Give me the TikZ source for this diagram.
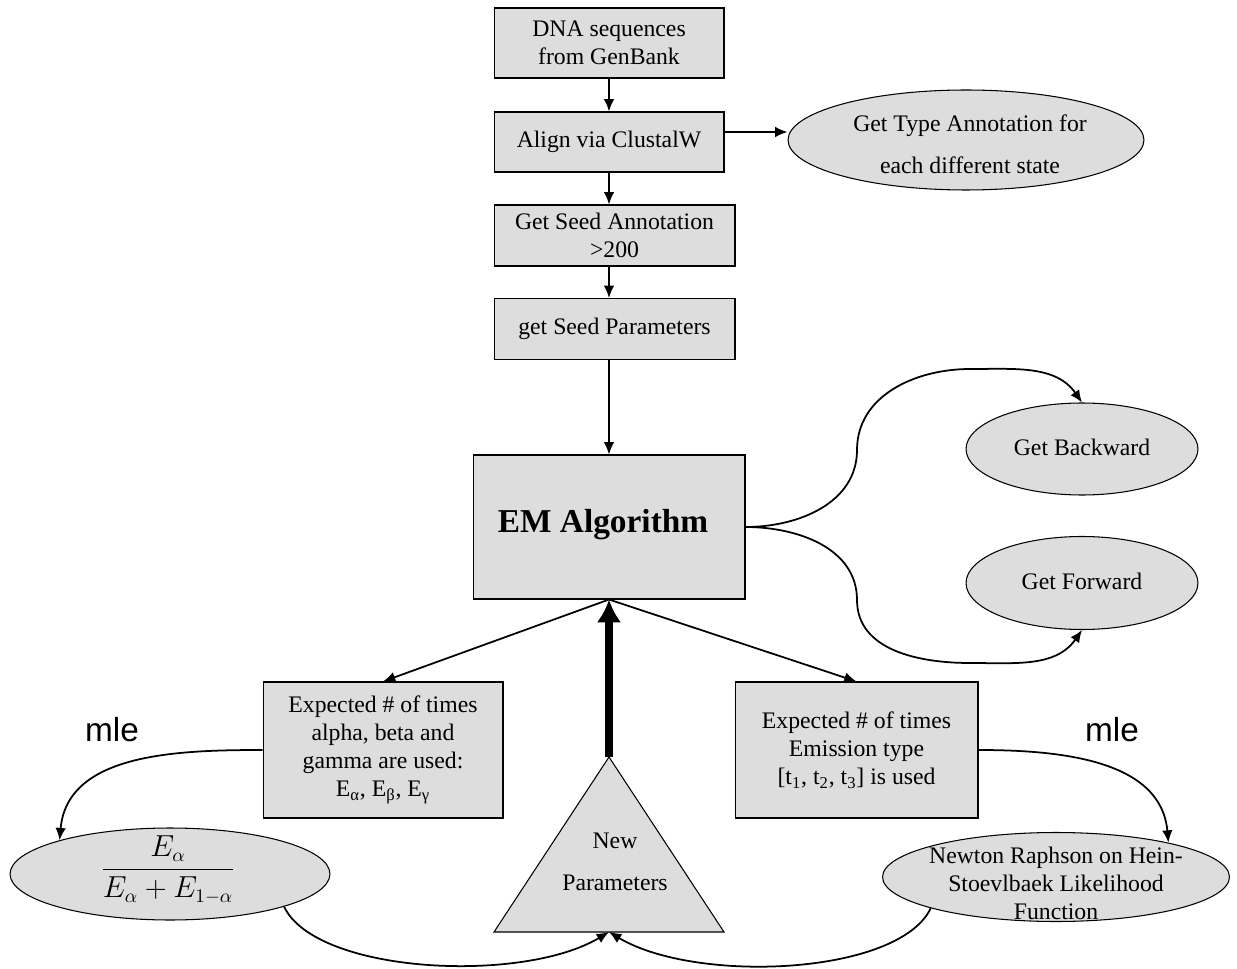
\documentclass[tikz,border=0pt]{standalone}
\usepackage{fontspec}
\setmainfont{Liberation Serif}
\newfontfamily\mlefont{Liberation Sans}
\usetikzlibrary{shapes.geometric,arrows.meta}
\definecolor{boxgray}{HTML}{DDDDDD}

\begin{document}
\begin{tikzpicture}[x=0.02cm, y=0.02cm,
    every node/.style={font=\fontsize{13.5}{16}\selectfont},
    box/.style={draw, fill=boxgray, line width=0.6pt, align=center, inner sep=0pt},
    oval/.style={draw, ellipse, fill=boxgray, line width=0.6pt, inner sep=0pt},
    txt/.style={align=center, inner sep=0pt},
    arr/.style={-{Latex[length=7pt,width=6pt]}, line width=1pt}]
    \useasboundingbox (0,0) rectangle (1237,968);
    \draw
    (609,925)node(dna)[box, minimum width=4.6cm, minimum height=1.4cm]{DNA sequences\\from GenBank}
    (609,826)node(align)[box, minimum width=4.6cm, minimum height=1.2cm]{Align via ClustalW}
    (614.5,732.5)node(seed)[box, minimum width=4.82cm, minimum height=1.22cm]{Get Seed Annotation\\>200}
    (614.5,639)node(param)[box, minimum width=4.82cm, minimum height=1.22cm]{get Seed Parameters}
    (609,441)node(em)[box, minimum width=5.44cm, minimum height=2.88cm]{}
    (383,218)node(lbox)[box, minimum width=4.8cm, minimum height=2.72cm]{Expected \# of times\\alpha, beta and\\gamma are used:\\E\textsubscript{α}, E\textsubscript{β}, E\textsubscript{γ}}
    (856.5,218)node(rbox)[box, minimum width=4.86cm, minimum height=2.72cm]{Expected \# of times\\Emission type\\{[}t\textsubscript{1}, t\textsubscript{2}, t\textsubscript{3}{]} is used};
    %
    \draw
    (966,828)node(type)[oval, minimum width=7.12cm, minimum height=2cm]{}
    (1082,519)node(back)[oval, minimum width=4.64cm, minimum height=1.84cm]{}
    (1082,385)node(fwd)[oval, minimum width=4.64cm, minimum height=1.86cm]{}
    (170,94)node(frac)[oval, minimum width=6.4cm, minimum height=1.84cm]{}
    (1056,91)node(newton)[oval, minimum width=6.94cm, minimum height=1.78cm]{};
    %
    \node(emtxt)[txt, font=\fontsize{19}{23}\selectfont\bfseries] at (603,443){EM Algorithm};
    \node(typetxt)[txt, font=\fontsize{13.5}{24}\selectfont] at (970,824){Get Type Annotation for\\each different state};
    \node(backtxt)[txt] at (1082,521){Get Backward};
    \node(fwdtxt)[txt] at (1082,387){Get Forward};
    \node(fractxt)[txt, font=\fontsize{16}{18}\selectfont] at (168,98){$\displaystyle\frac{E_\alpha}{E_\alpha + E_{1-\alpha}}$};
    \node(newtontxt)[txt] at (1056,85){Newton Raphson on Hein-\\Stoevlbaek Likelihood\\Function};
    %
    \coordinate (newtop) at (609,211);
    \coordinate (newbot) at (609,36);
    \draw[fill=boxgray, line width=0.6pt] (newtop) -- (724,36) -- (494,36) -- cycle;
    \node(newtxt)[txt, font=\fontsize{13.5}{24}\selectfont] at (615,106){New\\Parameters};
    %
    \node(mlel)[txt, font=\mlefont\fontsize{19}{22}\selectfont] at (112,238){mle};
    \node(mler)[txt, font=\mlefont\fontsize{19}{22}\selectfont] at (1112,238){mle};
    %
    \draw [arr](dna)--(align);
    \draw [arr](align.south)--(align.south |- seed.north);
    \draw [arr](seed.south -| dna.south)--(param.north -| dna.south);
    \draw [arr](param.south -| dna.south)--(em.north);
    \draw [arr]([yshift=0.2cm]align.east)--([yshift=0.2cm]align.east -| type.west);
    \draw [arr](em.east) to[out=0,in=-90] (857,518) to[out=90,in=180] (970,599) to[out=0,in=125] (back.north);
    \draw [arr](em.east) to[out=0,in=90] (857,368) to[out=-90,in=180] (970,305) to[out=0,in=-125] (fwd.south);
    \draw [arr](em.south)--(lbox.north);
    \draw [arr](em.south)--(rbox.north);
    \draw [-{Latex[length=13pt,width=14pt]}, line width=4.5pt](newtop)--(em.south);
    \draw [arr](lbox.west) to[out=180,in=85] (frac.163);
    \draw [arr](rbox.east) to[out=0,in=95] (newton.17);
    \draw [arr](frac.-16) .. controls +(32,-67) and +(-87,-52) .. (newbot);
    \draw [arr](newton.194) .. controls +(-32,-67) and +(87,-52) .. (newbot);
\end{tikzpicture}
\end{document}
